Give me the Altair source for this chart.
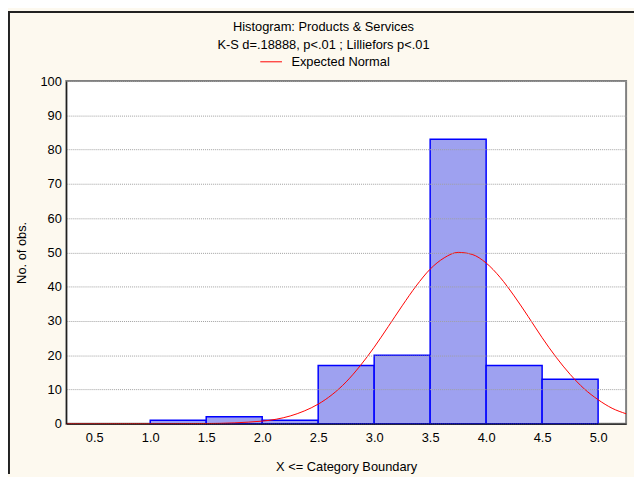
import altair as alt
import pandas as pd

# Histogram bins (upper boundary labelled) and counts
bin_start = [1.0, 1.5, 2.0, 2.5, 3.0, 3.5, 4.0, 4.5]
bin_end = [1.5, 2.0, 2.5, 3.0, 3.5, 4.0, 4.5, 5.0]
counts = [1, 2, 1, 17, 20, 83, 17, 13]

# Expected normal curve
curve_x = [0.25, 0.5, 1.0, 1.5, 2.0, 2.125, 2.25, 2.375, 2.5, 2.625, 2.75, 2.875,
           3.0, 3.125, 3.25, 3.375, 3.5, 3.625, 3.75, 3.875, 4.0, 4.125, 4.25,
           4.375, 4.5, 4.625, 4.75, 4.875, 5.0, 5.125, 5.25]
curve_y = [0.0, 0.0, 0.0, 0.05, 0.75, 1.3, 2.25, 3.7, 5.7, 8.5, 12.2, 16.9,
           22.3, 28.3, 34.4, 40.2, 45.1, 48.4, 50.0, 49.4, 46.9, 42.7, 37.3,
           31.3, 25.1, 19.4, 14.4, 10.2, 7.0, 4.5, 2.9]

x_ticks = [0.5, 1.0, 1.5, 2.0, 2.5, 3.0, 3.5, 4.0, 4.5, 5.0]
y_ticks = [0, 10, 20, 30, 40, 50, 60, 70, 80, 90, 100]

title_lines = ["Histogram: Products & Services", "K-S d=.18888, p<.01 ; Lilliefors p<.01"]

W, H = 567, 347
FONT = "Liberation Sans"
FS = 13

bars_df = pd.DataFrame({"start": bin_start, "end": bin_end, "count": counts})
curve_df = pd.DataFrame({"x": curve_x, "y": curve_y, "series": ["Expected Normal"] * len(curve_x)})

xscale = alt.Scale(domain=[0.25, 5.25], nice=False, zero=False)
yscale = alt.Scale(domain=[0, 100], nice=False)

xaxis = alt.Axis(values=x_ticks, format=".1f", title="X <= Category Boundary",
                 grid=False, tickSize=0, labelPadding=8, titlePadding=16,
                 domainColor="black", labelFont=FONT, titleFont=FONT,
                 labelFontSize=FS, titleFontSize=FS, titleFontWeight="normal",
                 labelColor="black", titleColor="black", labelOverlap=False, zindex=1)
yaxis = alt.Axis(values=y_ticks, title="No. of obs.", grid=True, gridColor="#a0a0a0",
                 gridDash=[1, 1], tickSize=0, labelPadding=5, titlePadding=12,
                 domainColor="black", labelFont=FONT, titleFont=FONT,
                 labelFontSize=FS, titleFontSize=FS, titleFontWeight="normal",
                 labelColor="black", titleColor="black", labelOverlap=False, zindex=1)

bars = alt.Chart(bars_df).mark_rect(fill="#9ea1f0", stroke="#0000ff", strokeWidth=1.5).encode(
    x=alt.X("start:Q", scale=xscale, axis=xaxis),
    x2="end:Q",
    y=alt.Y("count:Q", scale=yscale, axis=yaxis),
    y2=alt.datum(0),
)

curve = alt.Chart(curve_df).mark_line(strokeWidth=1, interpolate="monotone").encode(
    x=alt.X("x:Q", scale=xscale, axis=xaxis),
    y=alt.Y("y:Q", scale=yscale, axis=yaxis),
    color=alt.Color("series:N", scale=alt.Scale(domain=["Expected Normal"], range=["#ff0000"]),
                    legend=alt.Legend(title=None, orient="none", legendX=196, legendY=-31,
                                      symbolType="stroke", symbolSize=484, symbolStrokeWidth=1,
                                      labelFont=FONT, labelFontSize=FS, labelColor="black",
                                      labelOffset=9)),
)

title_df = pd.DataFrame({"text": title_lines, "row": [0, 1]})
title_base = alt.Chart(title_df).mark_text(font=FONT, fontSize=FS, color="black",
                                           align="center", baseline="middle")
title1 = title_base.transform_filter("datum.row == 0").encode(
    text="text:N", x=alt.value(W / 2 - 23), y=alt.value(-55))
title2 = title_base.transform_filter("datum.row == 1").encode(
    text="text:N", x=alt.value(W / 2 - 23), y=alt.value(-36))

frame_df = pd.DataFrame({"k": [0]})
left_frame = alt.Chart(frame_df).mark_rule(color="#222222", strokeWidth=2).encode(
    x=alt.value(-58), y=alt.value(-71), y2=alt.value(H + 51))
top_frame = alt.Chart(frame_df).mark_rule(color="#222222", strokeWidth=2).encode(
    x=alt.value(-59), x2=alt.value(W + 8), y=alt.value(-70))

chart = alt.layer(bars, curve, title1, title2, left_frame, top_frame).properties(
    width=W, height=H,
    autosize=alt.AutoSizeParams(type="none"),
    padding={"left": 59, "top": 71, "right": 8, "bottom": 51},
    background="#fdf9ef",
).configure_view(fill="white", stroke="#808080", strokeWidth=2)

chart.save("out.html", embed_options={"renderer": "svg", "actions": False})
